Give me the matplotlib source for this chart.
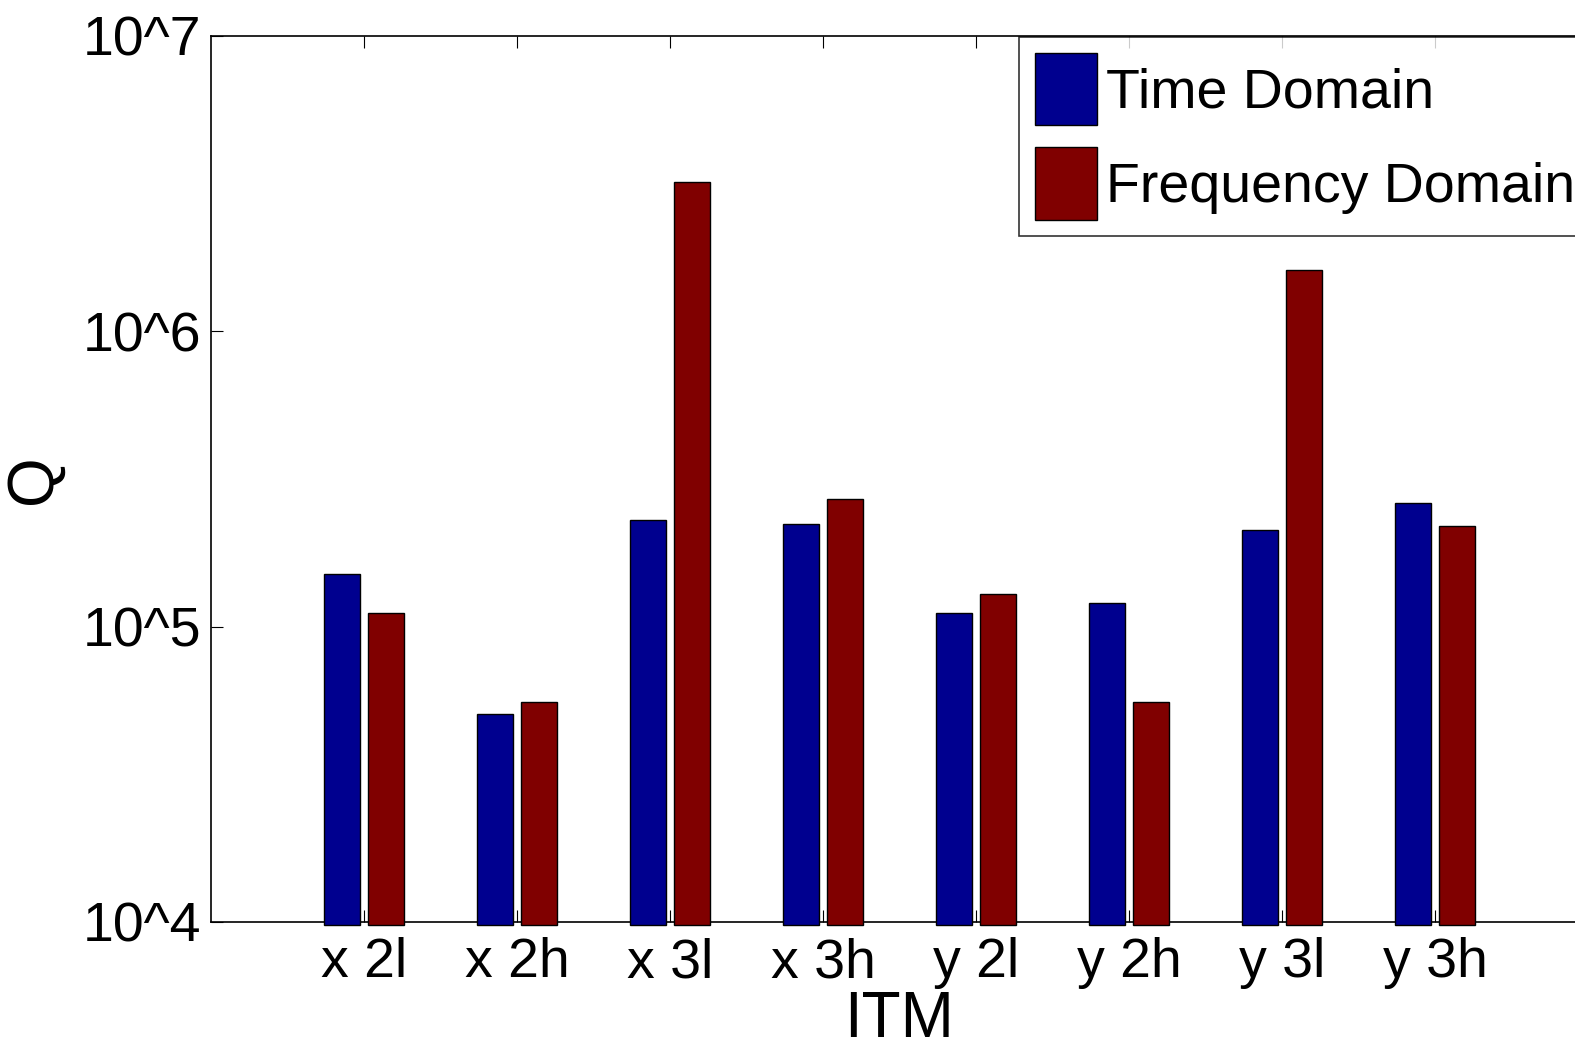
import numpy as np
import matplotlib
matplotlib.use("Agg")
import matplotlib.pyplot as plt

plt.rcParams["font.family"] = ["Liberation Sans", "DejaVu Sans"]

# data (log scale)
categories = ["x 2l", "x 2h", "x 3l", "x 3h", "y 2l", "y 2h", "y 3l", "y 3h"]
time_domain = [1.51e5, 5.06e4, 2.30e5, 2.22e5, 1.11e5, 1.20e5, 2.12e5, 2.63e5]
freq_domain = [1.11e5, 5.56e4, 3.21e6, 2.71e5, 1.29e5, 5.56e4, 1.61e6, 2.20e5]
ytick_vals = [1e4, 1e5, 1e6, 1e7]
ytick_labels = ["10^4", "10^5", "10^6", "10^7"]

x = np.arange(1, len(categories) + 1)
width = 0.235
offset = 0.145
base = 9.75e3  # bars start just below the axis line, like the original

fig = plt.figure(figsize=(15.75, 10.42), dpi=100)
# the original axes runs off the right edge of the picture
ax = fig.add_axes([211 / 1575, 1 - 922 / 1042, 1377 / 1575, 886 / 1042])

ax.set_yscale("log")
ax.bar(x - offset, np.array(time_domain) - base, width, bottom=base,
       color="#00008F", edgecolor="black", linewidth=1, label="Time Domain",
       clip_on=False, zorder=3)
ax.bar(x + offset, np.array(freq_domain) - base, width, bottom=base,
       color="#800000", edgecolor="black", linewidth=1, label="Frequency Domain",
       clip_on=False, zorder=3)

ax.set_xlim(0, 9)
ax.set_ylim(1e4, 1e7)
ax.set_yticks(ytick_vals)
ax.set_yticklabels(ytick_labels)
ax.yaxis.set_minor_locator(matplotlib.ticker.NullLocator())
ax.set_xticks(x)
ax.set_xticklabels(categories)

ax.tick_params(axis="both", direction="in", length=8.5, width=0.8,
               labelsize=40, top=True, right=True)
ax.tick_params(axis="y", pad=7)
ax.tick_params(axis="x", pad=11)
for s in ax.spines.values():
    s.set_linewidth(1.2)

ax.set_xlabel("ITM", fontsize=46, va="baseline")
ax.xaxis.set_label_coords(0.5, -0.130)
ax.set_ylabel("Q", fontsize=46, va="center")
ax.yaxis.set_label_coords(-0.129, 0.5)

leg = ax.legend(loc="upper left", bbox_to_anchor=(1019 / 1575, 1 - 37 / 1042),
                bbox_transform=fig.transFigure, borderaxespad=0,
                fontsize=40, fancybox=False, frameon=True,
                handlelength=1.13, handleheight=1.643, handletextpad=0.15,
                labelspacing=0.39, borderpad=0.28)
leg.get_frame().set_edgecolor("black")
leg.get_frame().set_linewidth(1.2)

fig.savefig("out.png", dpi=100)
